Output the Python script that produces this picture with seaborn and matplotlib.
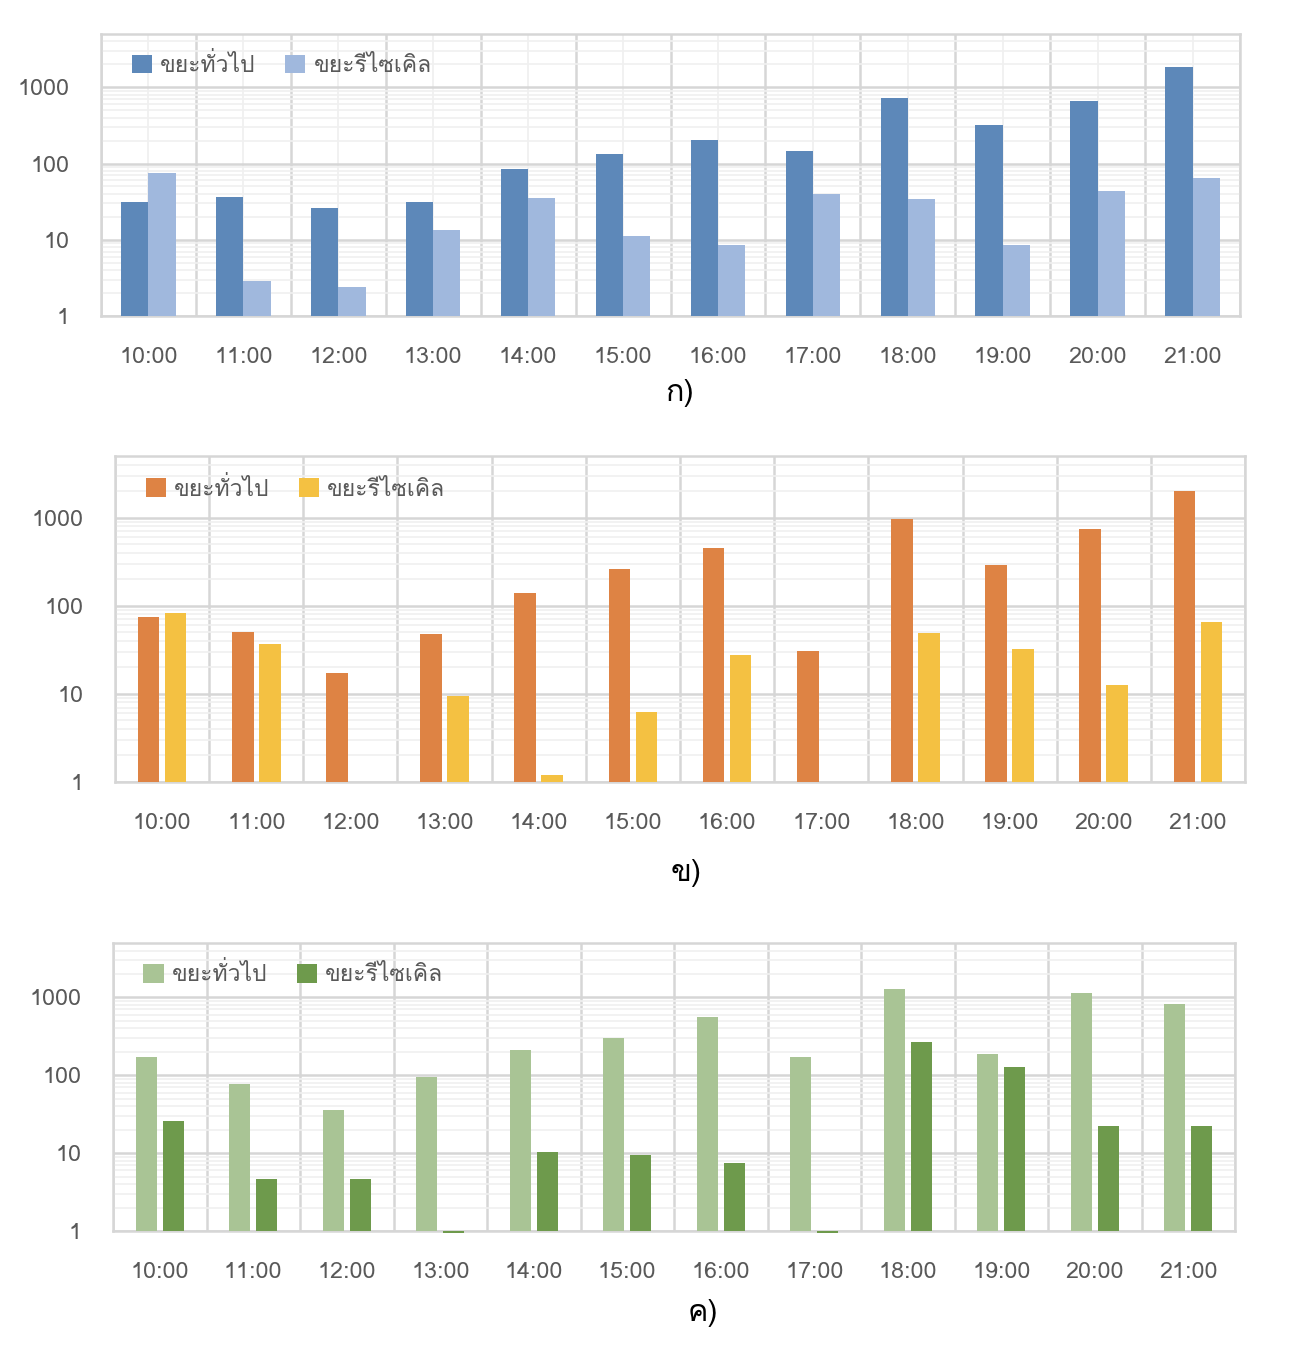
import numpy as np
import pandas as pd
import matplotlib
matplotlib.use("Agg")
import matplotlib.pyplot as plt
import seaborn as sns
from matplotlib import font_manager
from matplotlib.ft2font import FT2Font
from matplotlib.ticker import FixedLocator, LogLocator, NullFormatter

# ---------------- data ----------------
times = ["10:00", "11:00", "12:00", "13:00", "14:00", "15:00",
         "16:00", "17:00", "18:00", "19:00", "20:00", "21:00"]
series_names = ["ขยะทั่วไป", "ขยะรีไซเคิล"]

a_general = [31, 36, 26, 31, 84, 135, 205, 147, 720, 321, 658, 1870]
a_recycle = [74, 2.85, 2.4, 13.5, 35, 11.3, 8.6, 39.5, 34, 8.6, 43, 64]

b_general = [75, 51, 17.3, 48, 140, 263, 455, 30.8, 975, 292, 750, 2030]
b_recycle = [83, 37, 0, 9.5, 1.2, 6.2, 27.7, 0, 49, 32, 12.6, 66]

c_general = [170, 77, 35.6, 94, 210, 300, 555, 170, 1300, 186, 1150, 835]
c_recycle = [25.7, 4.6, 4.6, 0.93, 10.3, 9.4, 7.4, 0.93, 265, 126, 22, 22]

captions = ["ก)", "ข)", "ค)"]
y_ticks = [1, 10, 100, 1000]
y_tick_labels = ["1", "10", "100", "1000"]

# ---------------- fonts ----------------
sns.set_theme(style="white")
thai_fams = []
for f in font_manager.fontManager.ttflist:
    try:
        cm = FT2Font(f.fname).get_charmap()
        if 0x0E02 in cm and 0x0E30 in cm and f.name not in thai_fams:
            thai_fams.append(f.name)
    except Exception:
        pass
fam = (thai_fams[:1] if thai_fams else []) + ["Open Sans", "DejaVu Sans"]
plt.rcParams["font.family"] = fam

W, H = 1306, 1352
fig = plt.figure(figsize=(W / 100, H / 100), dpi=100)

panels = [
    dict(gen=a_general, rec=a_recycle, colors=["#5D88B9", "#A0B8DD"],
         rect=(101, 34, 1240, 316), gap=0.0, center_grid=True,
         cap=(680, 393)),
    dict(gen=b_general, rec=b_recycle, colors=["#DE8344", "#F4C142"],
         rect=(115, 456, 1245, 782), gap=0.2, center_grid=False,
         cap=(686, 873)),
    dict(gen=c_general, rec=c_recycle, colors=["#A9C495", "#6E9A4C"],
         rect=(113, 943, 1235, 1231), gap=0.22, center_grid=False,
         cap=(703, 1313)),
]

for i, p in enumerate(panels):
    x0, y0, x1, y1 = p["rect"]
    ax = fig.add_axes([x0 / W, 1 - y1 / H, (x1 - x0) / W, (y1 - y0) / H])
    df = pd.DataFrame({
        "time": times * 2,
        "value": list(p["gen"]) + list(p["rec"]),
        "type": [series_names[0]] * len(times) + [series_names[1]] * len(times),
    })
    sns.barplot(data=df, x="time", y="value", hue="type", order=times,
                hue_order=series_names, palette=p["colors"], width=0.575,
                gap=p["gap"], errorbar=None, saturation=1, linewidth=0,
                ax=ax, zorder=3)
    ax.set_yscale("log")
    ax.set_ylim(1, 5000)
    ax.set_xlim(-0.5, len(times) - 0.5)

    # bars below 1 extend downwards from the axis base (as in the original)
    for patch in ax.patches:
        h = patch.get_height()
        if 0 < h < 1:
            patch.set_y(h)
            patch.set_height(1 - h)
            patch.set_clip_on(False)

    ax.yaxis.set_major_locator(FixedLocator(y_ticks))
    ax.set_yticklabels(y_tick_labels)
    ax.yaxis.set_minor_locator(LogLocator(base=10, subs=np.arange(2, 10)))
    ax.yaxis.set_minor_formatter(NullFormatter())
    ax.set_xticks(np.arange(-0.5, len(times), 1), minor=True)

    ax.set_axisbelow(True)
    ax.yaxis.grid(True, which="major", color="#D6D6D6", lw=1.8, zorder=0)
    ax.yaxis.grid(True, which="minor", color="#F0F0F0", lw=1.2, zorder=0)
    ax.xaxis.grid(True, which="minor", color="#D6D6D6", lw=1.8, zorder=0)
    if p["center_grid"]:
        ax.xaxis.grid(True, which="major", color="#F0F0F0", lw=1.3, zorder=0)
    else:
        ax.xaxis.grid(False, which="major")

    for s in ax.spines.values():
        s.set_visible(True)
        s.set_color("#D6D6D6")
        s.set_linewidth(1.8)

    ax.tick_params(axis="both", which="both", length=0)
    ax.tick_params(axis="y", pad=23, labelsize=16.8, labelcolor="#595959")
    ax.tick_params(axis="x", pad=22, labelsize=16.8, labelcolor="#595959")
    ax.set_xlabel("")
    ax.set_ylabel("")

    handles, labels = ax.get_legend_handles_labels()
    ax.legend(handles, labels, loc="upper left", bbox_to_anchor=(0.019, 0.965),
              ncol=2, frameon=False, fontsize=16.5, labelcolor="#595959",
              handlelength=0.88, handleheight=0.88, handletextpad=0.35,
              columnspacing=1.3, borderaxespad=0)

    cx, cy = p["cap"]
    fig.text(cx / W, 1 - cy / H, captions[i], ha="center", va="center",
             fontsize=22, color="black")

fig.savefig("out.png", dpi=100)
